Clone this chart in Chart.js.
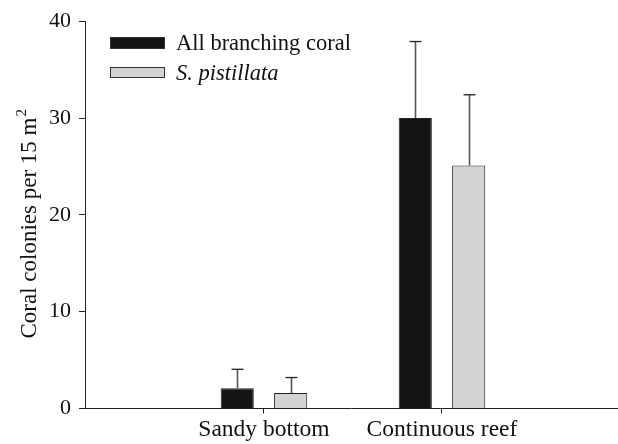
<!DOCTYPE html>
<html>
<head>
<meta charset="utf-8">
<script src="https://cdn.jsdelivr.net/npm/chart.js@4.4.1/dist/chart.umd.min.js"></script>
<style>
html,body{margin:0;padding:0;background:#fff;}
#wrap{width:618px;height:444px;position:relative;}
</style>
</head>
<body>
<div id="wrap"><canvas id="c" width="618" height="444"></canvas></div>
<script>
// ---- data ----
const categories = ['Sandy bottom', 'Continuous reef'];
const seriesNames = ['All branching coral', 'S. pistillata'];
const branchingMeans = [2.1, 30.0];
const branchingErrTop = [4.05, 37.9];
const pistillataMeans = [1.6, 25.1];
const pistillataErrTop = [3.2, 32.4];
const yTicks = [0, 10, 20, 30, 40];
const yTitle = 'Coral colonies per 15 m';
const yTitleSup = '2';

const serif = '"Liberation Serif", "Times New Roman", serif';

const errorBars = {
  id: 'errorBars',
  afterDatasetsDraw(chart) {
    const ctx = chart.ctx;
    const y = chart.scales.y;
    const tops = [branchingErrTop, pistillataErrTop];
    const means = [branchingMeans, pistillataMeans];
    ctx.save();
    chart.data.datasets.forEach((ds, di) => {
      const meta = chart.getDatasetMeta(di);
      meta.data.forEach((bar, i) => {
        const x = Math.round(bar.x) + 0.5;
        const yTop = y.getPixelForValue(tops[di][i]);
        const yBase = y.getPixelForValue(means[di][i]);
        ctx.strokeStyle = '#555';
        ctx.lineWidth = 1.6;
        ctx.beginPath();
        ctx.moveTo(x, yBase);
        ctx.lineTo(x, yTop);
        ctx.stroke();
        ctx.strokeStyle = '#222';
        ctx.lineWidth = 1.3;
        ctx.beginPath();
        ctx.moveTo(x - 6, yTop);
        ctx.lineTo(x + 6, yTop);
        ctx.stroke();
      });
    });
    ctx.restore();
  }
};

const customLegend = {
  id: 'customLegend',
  afterDraw(chart) {
    const ctx = chart.ctx;
    ctx.save();
    const items = [
      {fill: '#141414', y: 37, h: 12, italic: false},
      {fill: '#d3d3d3', y: 67, h: 11, italic: true}
    ];
    items.forEach((it, i) => {
      ctx.fillStyle = it.fill;
      ctx.fillRect(110, it.y, 55, it.h);
      ctx.strokeStyle = '#333';
      ctx.lineWidth = 1;
      ctx.strokeRect(110.5, it.y + 0.5, 54, it.h - 1);
      ctx.fillStyle = '#111';
      ctx.font = (it.italic ? 'italic ' : '') + '22.5px ' + serif;
      ctx.textBaseline = 'alphabetic';
      ctx.textAlign = 'left';
      ctx.fillText(chart.data.datasets[i].label, 176, it.y + 13);
    });
    ctx.restore();
  }
};

const yTitlePlugin = {
  id: 'yTitlePlugin',
  afterDraw(chart) {
    const ctx = chart.ctx;
    ctx.save();
    ctx.translate(36, 228);
    ctx.rotate(-Math.PI / 2);
    ctx.fillStyle = '#111';
    ctx.font = '23px ' + serif;
    ctx.textBaseline = 'alphabetic';
    ctx.textAlign = 'center';
    const w = ctx.measureText(yTitle).width;
    ctx.fillText(yTitle, 0, 0);
    ctx.font = '15px ' + serif;
    ctx.textAlign = 'left';
    ctx.fillText(yTitleSup, w / 2 + 1, -10);
    ctx.restore();
  }
};

new Chart(document.getElementById('c'), {
  type: 'bar',
  data: {
    datasets: [
      {
        label: seriesNames[0],
        data: categories.map((c, i) => ({x: i + 1, y: branchingMeans[i]})),
        backgroundColor: '#141414',
        borderColor: '#222',
        borderWidth: 1
      },
      {
        label: seriesNames[1],
        data: categories.map((c, i) => ({x: i + 1, y: pistillataMeans[i]})),
        backgroundColor: '#d3d3d3',
        borderColor: '#222',
        borderWidth: 1
      }
    ]
  },
  options: {
    responsive: false,
    animation: false,
    devicePixelRatio: 1,
    categoryPercentage: 0.6,
    barPercentage: 0.62,
    layout: {padding: {top: 20.5, right: 1, bottom: 0, left: 0}},
    plugins: {legend: {display: false}, tooltip: {enabled: false}},
    scales: {
      x: {
        type: 'linear',
        min: -0.005,
        max: 2.983,
        offset: false,
        afterBuildTicks: s => { s.ticks = categories.map((c, i) => ({value: i + 1})); },
        afterFit: s => { s.height = 35.5; },
        ticks: {
          callback: v => categories[v - 1] || '',
          font: {family: serif, size: 23.5},
          color: '#111',
          padding: 2,
          maxRotation: 0,
          autoSkip: false
        },
        grid: {display: true, drawOnChartArea: false, drawTicks: true, tickLength: 5, offset: false, color: '#222'},
        border: {display: true, color: '#222', width: 1}
      },
      y: {
        min: 0,
        max: 40,
        afterBuildTicks: s => { s.ticks = yTicks.map(v => ({value: v})); },
        afterFit: s => { s.width = 85; },
        ticks: {
          font: {family: serif, size: 22},
          color: '#111',
          padding: 8
        },
        grid: {display: true, drawOnChartArea: false, drawTicks: true, tickLength: 6, color: '#222'},
        border: {display: true, color: '#222', width: 1}
      }
    }
  },
  plugins: [errorBars, customLegend, yTitlePlugin]
});
</script>
</body>
</html>
